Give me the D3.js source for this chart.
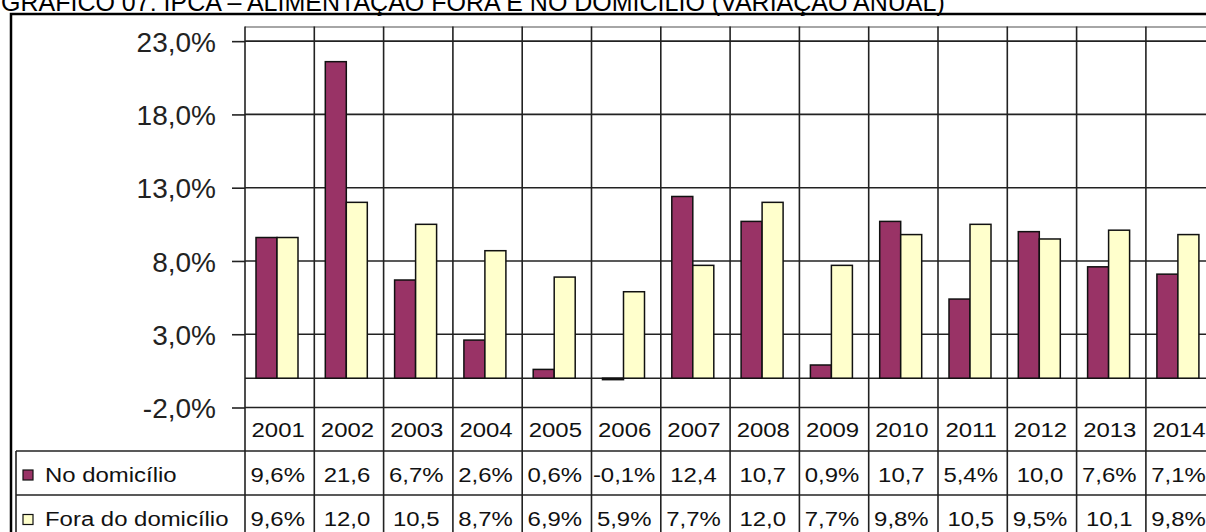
<!DOCTYPE html>
<html>
<head>
<meta charset="utf-8">
<script src="https://cdn.jsdelivr.net/npm/d3@7"></script>
<style>
  html, body { margin: 0; padding: 0; background: #fff; overflow: hidden; }
  svg { display: block; font-family: "Liberation Sans", Arial, sans-serif; }
</style>
</head>
<body>
<svg id="chart" width="1206" height="532"></svg>
<script>
// IPCA food inflation, annual change (%), at home vs. away from home
const years = ["2001", "2002", "2003", "2004", "2005", "2006", "2007",
               "2008", "2009", "2010", "2011", "2012", "2013", "2014"];
const noDomicilio   = [9.6, 21.6, 6.7, 2.6, 0.6, -0.1, 12.4, 10.7, 0.9, 10.7, 5.4, 10.0, 7.6, 7.1];
const foraDomicilio = [9.6, 12.0, 10.5, 8.7, 6.9, 5.9, 7.7, 12.0, 7.7, 9.8, 10.5, 9.5, 10.1, 9.8];
const seriesNames   = ["No domicílio", "Fora do domicílio"];
const seriesColors  = ["#993366", "#FFFFCC"];
const yTicks        = [-2, 3, 8, 13, 18, 23];
const title = "GRÁFICO 07: IPCA – ALIMENTAÇÃO FORA E NO DOMICÍLIO (VARIAÇÃO ANUAL)";

const svg = d3.select("#chart");
const W = 1206, H = 532;
const plotLeft = 245, colStep = 69.3;
const plotRight = plotLeft + colStep * years.length;
const gridColor = "#222";

const comma = v => v.toFixed(1).replace(".", ",");
// data-table cells: values of two digits drop the percent sign (narrow cells)
const cellText = v => Math.abs(v) >= 10 ? comma(v) : comma(v) + "%";

const x = d3.scaleBand().domain(years).range([plotLeft, plotRight]).padding(0);
const xs = d3.scaleBand().domain([0, 1]).range([11, 53]).padding(0);
const y = d3.scaleLinear().domain([-2, 24]).range([407.5, 26.5]);

svg.append("rect").attr("width", W).attr("height", H).attr("fill", "#fff");

// title
svg.append("text")
  .attr("x", 1).attr("y", 11)
  .attr("font-size", 25).attr("fill", "#000")
  .text(title);

// outer frame
svg.append("rect")
  .attr("x", 11).attr("y", 14).attr("width", 1400).attr("height", 700)
  .attr("fill", "none").attr("stroke", "#000").attr("stroke-width", 2.5);

// plot area top border
svg.append("line")
  .attr("x1", plotLeft).attr("x2", W + 20)
  .attr("y1", y(24) + 0.5).attr("y2", y(24) + 0.5)
  .attr("stroke", "#888").attr("stroke-width", 1.5);

// horizontal gridlines
svg.append("g").selectAll("line").data(yTicks).join("line")
  .attr("x1", plotLeft).attr("x2", W + 20)
  .attr("y1", d => y(d)).attr("y2", d => y(d))
  .attr("stroke", gridColor).attr("stroke-width", 1.6);

// zero line (category axis)
svg.append("line")
  .attr("x1", plotLeft).attr("x2", W + 20)
  .attr("y1", y(0)).attr("y2", y(0))
  .attr("stroke", gridColor).attr("stroke-width", 1.6);

// column dividers running from plot top through the data table
const bounds = years.map(d => x(d)).concat([plotRight]);
svg.append("g").selectAll("line").data(bounds).join("line")
  .attr("x1", d => d).attr("x2", d => d)
  .attr("y1", y(24)).attr("y2", H + 20)
  .attr("stroke", gridColor).attr("stroke-width", 1.6);

// value axis
const yAxis = d3.axisLeft(y).tickValues(yTicks).tickSize(13).tickPadding(16)
  .tickFormat(d => comma(d) + "%");
const gy = svg.append("g").attr("transform", `translate(${plotLeft},0)`).call(yAxis);
gy.select(".domain").remove();
gy.selectAll(".tick line").attr("stroke", gridColor).attr("stroke-width", 1.6);
gy.selectAll(".tick text")
  .attr("font-size", 28).attr("fill", "#222")
  .attr("font-family", "'Liberation Sans', Arial, sans-serif")
  .attr("dy", "0.36em");

// bars
const series = [noDomicilio, foraDomicilio];
series.forEach((vals, si) => {
  svg.append("g").selectAll("rect").data(vals).join("rect")
    .attr("x", (d, i) => x(years[i]) + xs(si))
    .attr("width", xs.bandwidth())
    .attr("y", d => y(Math.max(0, d)))
    .attr("height", d => Math.abs(y(d) - y(0)))
    .attr("fill", seriesColors[si])
    .attr("stroke", "#111").attr("stroke-width", 1.5);
});

// data table
const rowTops = [451, 495];
const tbl = svg.append("g");
rowTops.forEach(t => {
  tbl.append("line")
    .attr("x1", 16).attr("x2", W + 20).attr("y1", t).attr("y2", t)
    .attr("stroke", gridColor).attr("stroke-width", 1.6);
});
tbl.append("line")
  .attr("x1", 16).attr("x2", 16).attr("y1", rowTops[0]).attr("y2", H + 20)
  .attr("stroke", gridColor).attr("stroke-width", 1.6);

const tableText = (g, px, py, txt, anchor) =>
  g.append("text")
    .attr("transform", `translate(${px},${py}) scale(1.14,1)`)
    .attr("text-anchor", anchor)
    .attr("font-size", 21).attr("fill", "#111")
    .text(txt);

// year header row
years.forEach(yr => tableText(tbl, x(yr) + x.bandwidth() / 2 - 1.5, 437, yr, "middle"));

// series rows with legend keys
const baselines = [481.5, 526];
series.forEach((vals, si) => {
  tbl.append("rect")
    .attr("x", 23).attr("y", baselines[si] - 11.5).attr("width", 10).attr("height", 10)
    .attr("fill", seriesColors[si]).attr("stroke", "#111").attr("stroke-width", 1.2);
  tableText(tbl, 45, baselines[si], seriesNames[si], "start");
  vals.forEach((v, i) =>
    tableText(tbl, x(years[i]) + x.bandwidth() / 2 - 2, baselines[si], cellText(v), "middle"));
});
</script>
</body>
</html>
